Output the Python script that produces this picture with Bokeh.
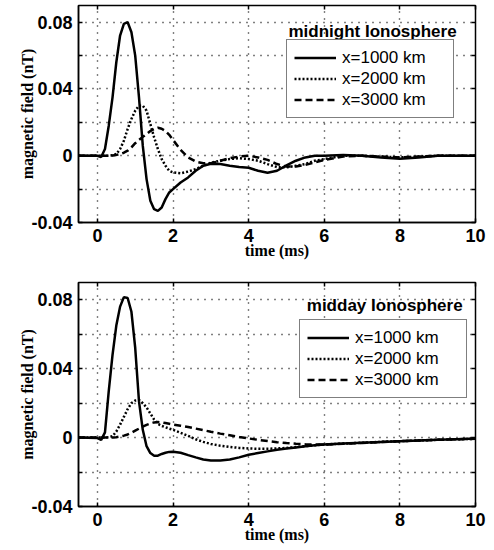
from bokeh.plotting import figure
from bokeh.layouts import column
from bokeh.models import (FixedTicker, Legend, LegendItem, Label, LinearAxis, ColumnDataSource)
from bokeh.embed import file_html
from bokeh.resources import INLINE

# ---------------- data ----------------
time_ms = [-0.5, 0.0, 0.1, 0.2, 0.3, 0.4, 0.5, 0.6, 0.7, 0.8, 0.9, 1.0, 1.1, 1.2, 1.3, 1.4,
           1.5, 1.6, 1.7, 1.8, 1.9, 2.0, 2.2, 2.4, 2.6, 2.8, 3.0, 3.25, 3.5, 3.75, 4.0,
           4.25, 4.5, 4.75, 5.0, 5.25, 5.5, 5.75, 6.0, 6.5, 7.0, 7.5, 8.0, 8.5, 9.0, 9.5, 10.0]

series_labels = ["x=1000 km", "x=2000 km", "x=3000 km"]

midnight_1000 = [0, 0, -0.0008, 0.004, 0.018, 0.035, 0.056, 0.072, 0.079, 0.080, 0.074, 0.060,
                 0.035, 0.006, -0.014, -0.027, -0.032, -0.033, -0.031, -0.026, -0.022, -0.020,
                 -0.016, -0.013, -0.009, -0.006, -0.0048, -0.005, -0.006, -0.0068, -0.0072,
                 -0.009, -0.0102, -0.009, -0.0058, -0.003, -0.001, 0.0, 0.0, 0.0005, 0.0,
                 -0.001, -0.0018, -0.001, 0.0, 0.0, 0.0]
midnight_2000 = [0, 0, 0, 0, 0, 0.0003, 0.001, 0.004, 0.009, 0.016, 0.022, 0.027, 0.030, 0.030,
                 0.027, 0.019, 0.011, 0.004, -0.002, -0.006, -0.009, -0.010, -0.0105, -0.0095,
                 -0.008, -0.006, -0.0042, -0.003, -0.002, -0.0015, -0.002, -0.003, -0.005,
                 -0.0068, -0.007, -0.006, -0.005, -0.003, -0.002, 0.0, 0.0, -0.0005, -0.001,
                 -0.0005, 0.0, 0.0, 0.0]
midnight_3000 = [0, 0, 0, 0, 0, 0.0002, 0.0005, 0.001, 0.0018, 0.003, 0.005, 0.0075, 0.0095,
                 0.0113, 0.013, 0.0148, 0.016, 0.0168, 0.0162, 0.0148, 0.0125, 0.0095, 0.0035,
                 -0.001, -0.0035, -0.0045, -0.0045, -0.003, -0.0015, -0.0005, 0.0, -0.001,
                 -0.0025, -0.005, -0.0065, -0.0065, -0.0055, -0.004, -0.0025, -0.0005, 0.0,
                 -0.0005, -0.001, -0.0005, 0.0, 0.0, 0.0]

midday_1000 = [0, -0.0003, -0.0013, 0.003, 0.027, 0.048, 0.065, 0.076, 0.0815, 0.081, 0.073,
               0.052, 0.021, 0.0045, -0.005, -0.009, -0.0105, -0.0105, -0.0095, -0.0088,
               -0.0083, -0.0082, -0.0088, -0.0102, -0.0115, -0.0127, -0.0133, -0.0133,
               -0.0127, -0.0115, -0.0100, -0.0090, -0.0080, -0.0071, -0.0064, -0.0057,
               -0.0050, -0.0044, -0.0040, -0.0035, -0.0030, -0.0025, -0.0021, -0.0017,
               -0.0013, -0.0009, -0.0006]
midday_2000 = [0, 0, 0, 0, 0.0002, 0.0008, 0.0035, 0.0075, 0.012, 0.0165, 0.020, 0.0215,
               0.0218, 0.020, 0.0175, 0.014, 0.0105, 0.008, 0.0068, 0.006, 0.0052, 0.0045,
               0.0028, 0.001, -0.001, -0.0025, -0.0037, -0.0047, -0.0054, -0.006, -0.0063,
               -0.0065, -0.0065, -0.0063, -0.006, -0.0055, -0.005, -0.0045, -0.004, -0.0035,
               -0.003, -0.0025, -0.0021, -0.0017, -0.0013, -0.001, -0.0007]
midday_3000 = [0, 0, 0, 0, 0, 0, 0.0002, 0.0006, 0.0011, 0.0018, 0.0028, 0.004, 0.0052,
               0.0064, 0.0074, 0.0082, 0.0088, 0.009, 0.0088, 0.0084, 0.008, 0.0076, 0.0069,
               0.0061, 0.0052, 0.0043, 0.0034, 0.0023, 0.0013, 0.0003, -0.0005, -0.0013,
               -0.002, -0.0027, -0.0032, -0.0036, -0.0039, -0.004, -0.004, -0.0036, -0.0031,
               -0.0026, -0.0021, -0.0017, -0.0013, -0.001, -0.0007]

x_ticks = [0, 2, 4, 6, 8, 10]
y_label_ticks = [-0.04, 0.0, 0.04, 0.08]
y_minor_ticks = [-0.02, 0.02, 0.06]
y_grid_ticks = [-0.04, -0.02, 0.0, 0.02, 0.04, 0.06, 0.08]
y_tick_labels = {-0.04: "-0.04", 0.0: "0", 0.04: "0.04", 0.08: "0.08"}

SANS = "Liberation Sans"
SERIF = "Liberation Serif"
DASHES = ["solid", "2 2", "7 4"]


def make_panel(title, series, height, min_top, min_bottom, legend_loc, title_xy):
    p = figure(width=494, height=height, x_range=(-0.5, 10), y_range=(-0.04, 0.09),
               min_border_left=78, min_border_right=19, min_border_top=min_top,
               min_border_bottom=min_bottom, output_backend="svg", toolbar_location=None)
    p.background_fill_color = "white"
    p.border_fill_color = "white"
    p.outline_line_color = "black"
    p.outline_line_width = 1.5
    p.outline_line_alpha = 1.0

    xt = FixedTicker(ticks=x_ticks, minor_ticks=[])
    yt = FixedTicker(ticks=y_label_ticks, minor_ticks=y_minor_ticks)

    p.xaxis.ticker = xt
    p.yaxis.ticker = yt
    p.yaxis.major_label_overrides = y_tick_labels
    for ax in (p.xaxis, p.yaxis):
        ax.major_tick_in = 4
        ax.major_tick_out = 0
        ax.minor_tick_in = 4
        ax.minor_tick_out = 0
        ax.axis_line_color = "black"
        ax.axis_line_width = 1.5
        ax.major_tick_line_color = "black"
        ax.major_tick_line_width = 1.5
        ax.minor_tick_line_color = "black"
        ax.minor_tick_line_width = 1.5
        ax.major_label_text_font = SANS
        ax.major_label_text_font_style = "bold"
        ax.major_label_text_font_size = "18px"
        ax.major_label_text_color = "black"
        ax.axis_label_text_font = SERIF
        ax.axis_label_text_font_style = "bold"
        ax.axis_label_text_font_size = "16px"
        ax.axis_label_text_color = "black"
    p.xaxis.axis_label = "time (ms)"
    p.yaxis.axis_label = "magnetic field (nT)"
    p.xaxis.major_label_standoff = 6
    p.xaxis.axis_label_standoff = -3
    p.yaxis.major_label_standoff = 6
    p.yaxis.axis_label_standoff = -8

    # unlabeled tick marks on the top and right frame edges (minor ticks carry no labels)
    top = LinearAxis(ticker=FixedTicker(ticks=[], minor_ticks=x_ticks),
                     minor_tick_in=4, minor_tick_out=0, major_tick_in=0, major_tick_out=0,
                     axis_line_color=None, minor_tick_line_width=1.5, minor_tick_line_color="black")
    right = LinearAxis(ticker=FixedTicker(ticks=[], minor_ticks=y_grid_ticks),
                       minor_tick_in=4, minor_tick_out=0, major_tick_in=0, major_tick_out=0,
                       axis_line_color=None, minor_tick_line_width=1.5, minor_tick_line_color="black")
    p.add_layout(top, "above")
    p.add_layout(right, "right")

    for g in (p.xgrid, p.ygrid):
        g.grid_line_color = "black"
        g.grid_line_dash = "1 6"
        g.grid_line_width = 1.4
    p.xgrid.ticker = xt
    p.ygrid.ticker = FixedTicker(ticks=y_grid_ticks, minor_ticks=[])

    items = []
    for ys, lab, dash in zip(series, series_labels, DASHES):
        src = ColumnDataSource(dict(t=time_ms, b=ys))
        r = p.line("t", "b", source=src, line_color="black", line_width=2.5, line_dash=dash)
        items.append(LegendItem(label=lab, renderers=[r]))

    leg = Legend(items=items, location=legend_loc)
    leg.label_text_font = SANS
    leg.label_text_font_size = "17px"
    leg.label_text_color = "black"
    leg.border_line_color = "black"
    leg.border_line_width = 1.5
    leg.background_fill_color = "white"
    leg.background_fill_alpha = 1.0
    leg.glyph_width = 42
    leg.glyph_height = 21
    leg.label_height = 21
    leg.label_width = 104
    leg.spacing = 0
    leg.padding = 7
    leg.label_standoff = 6
    leg.margin = 0
    p.add_layout(leg, "center")

    p.add_layout(Label(x=title_xy[0], y=title_xy[1], text=title, text_align="right",
                       text_baseline="alphabetic", text_font=SANS, text_font_style="bold",
                       text_font_size="17px", text_color="black"))
    return p


p1 = make_panel("midnight Ionosphere", [midnight_1000, midnight_2000, midnight_3000],
                272, 5, 50, (208, 104), (9.5, 0.0745))
p2 = make_panel("midday Ionosphere", [midday_1000, midday_2000, midday_3000],
                278, 10, 44, (221, 108), (9.66, 0.0767))

layout = column(p1, p2)
open("out.html", "w").write(file_html(layout, INLINE))
